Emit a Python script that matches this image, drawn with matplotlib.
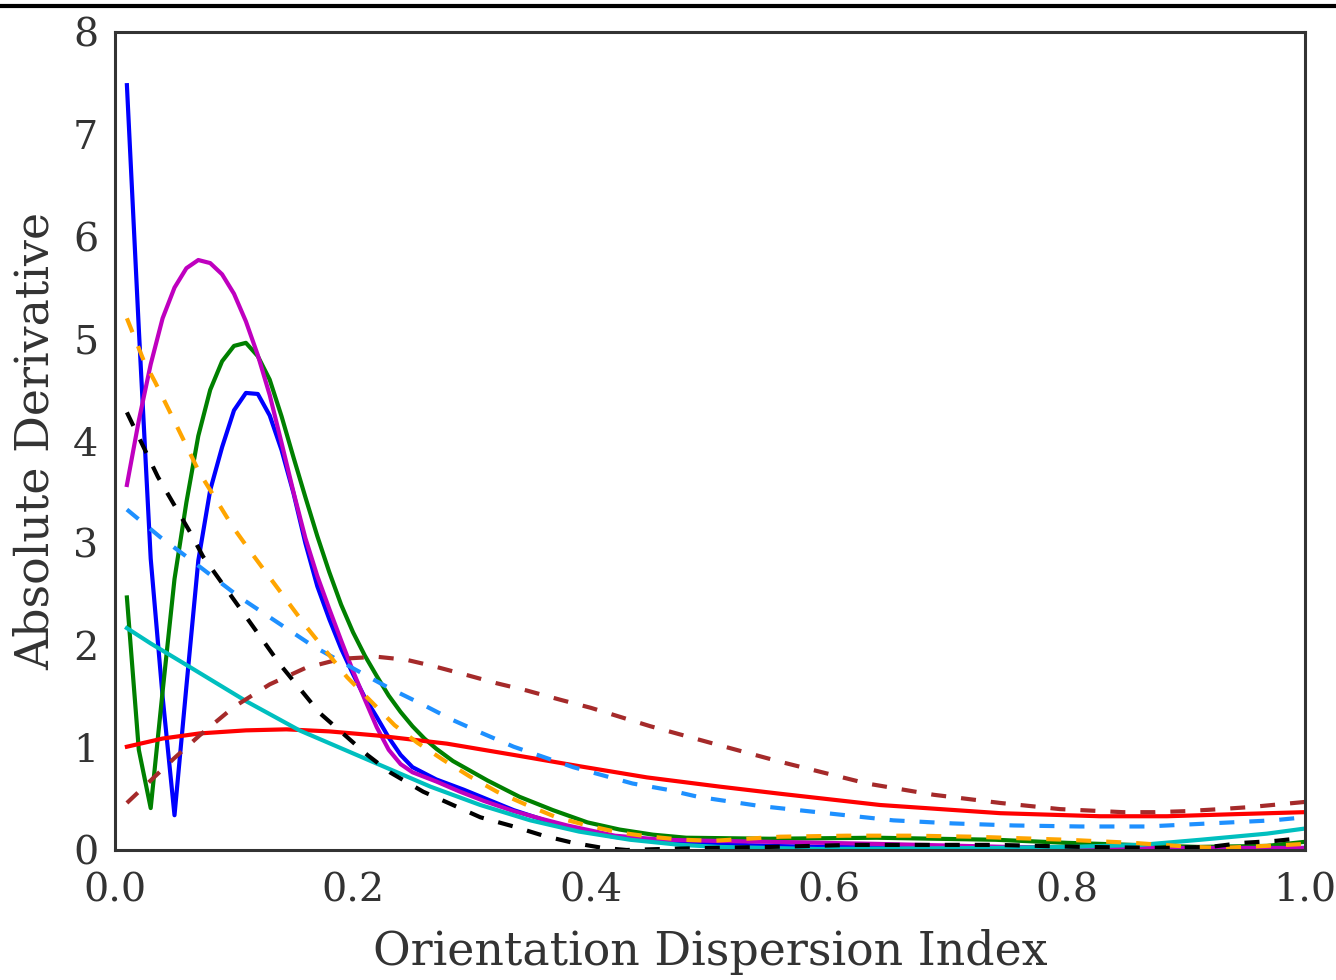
import matplotlib
matplotlib.use("Agg")
import matplotlib.pyplot as plt
from matplotlib.lines import Line2D

# --- data ---
blue_x = [0.01, 0.02, 0.03, 0.04, 0.05, 0.06, 0.07, 0.08, 0.09, 0.10, 0.11, 0.12,
          0.13, 0.14, 0.15, 0.16, 0.17, 0.18, 0.19, 0.20, 0.21, 0.22, 0.23, 0.24,
          0.25, 0.27, 0.293, 0.335, 0.377, 0.419, 0.46, 0.50, 0.55, 0.60, 0.70,
          0.80, 0.90, 1.00]
blue_y = [7.48, 5.10, 2.85, 1.50, 0.34, 1.60, 2.83, 3.52, 3.94, 4.30, 4.47, 4.46,
          4.25, 3.91, 3.49, 3.00, 2.58, 2.26, 1.97, 1.72, 1.49, 1.30, 1.10, 0.93,
          0.81, 0.69, 0.59, 0.39, 0.23, 0.13, 0.08, 0.06, 0.04, 0.03, 0.02,
          0.02, 0.01, 0.02]

green_x = [0.01, 0.02, 0.03, 0.04, 0.05, 0.06, 0.07, 0.08, 0.09, 0.10, 0.11, 0.12,
           0.13, 0.14, 0.15, 0.16, 0.17, 0.18, 0.19, 0.20, 0.21, 0.22, 0.23, 0.24,
           0.25, 0.26, 0.27, 0.284, 0.313, 0.34, 0.368, 0.397, 0.424, 0.452, 0.48,
           0.55, 0.64, 0.74, 0.80, 0.855, 0.91, 0.968, 1.00]
green_y = [2.47, 0.98, 0.41, 1.55, 2.65, 3.40, 4.05, 4.50, 4.78, 4.93, 4.96, 4.83,
           4.60, 4.24, 3.84, 3.45, 3.07, 2.72, 2.40, 2.13, 1.90, 1.70, 1.51, 1.35,
           1.21, 1.09, 0.99, 0.87, 0.68, 0.52, 0.39, 0.27, 0.20, 0.15, 0.12,
           0.11, 0.12, 0.10, 0.07, 0.05, 0.03, 0.04, 0.08]

magenta_x = [0.01, 0.02, 0.03, 0.04, 0.05, 0.06, 0.07, 0.08, 0.09, 0.10, 0.11, 0.12,
             0.13, 0.14, 0.15, 0.16, 0.17, 0.18, 0.19, 0.20, 0.21, 0.22, 0.23, 0.24,
             0.25, 0.27, 0.29, 0.31, 0.335, 0.36, 0.38, 0.42, 0.46, 0.50, 0.55,
             0.64, 0.75, 0.85, 1.00]
magenta_y = [3.57, 4.20, 4.75, 5.20, 5.50, 5.69, 5.77, 5.74, 5.63, 5.44, 5.17, 4.84,
             4.45, 3.98, 3.50, 3.05, 2.68, 2.36, 2.05, 1.75, 1.47, 1.20, 0.98, 0.84,
             0.76, 0.67, 0.57, 0.48, 0.38, 0.30, 0.24, 0.14, 0.10, 0.09, 0.08,
             0.06, 0.03, 0.02, 0.02]

cyan_x = [0.01, 0.03, 0.06, 0.111, 0.155, 0.223, 0.265, 0.307, 0.349, 0.39, 0.433,
          0.475, 0.508, 0.59, 0.74, 0.80, 0.862, 0.912, 0.968, 1.00]
cyan_y = [2.17, 2.02, 1.81, 1.45, 1.17, 0.83, 0.62, 0.44, 0.29, 0.18, 0.10,
          0.05, 0.03, 0.01, 0.02, 0.03, 0.05, 0.10, 0.16, 0.21]

red_x = [0.01, 0.04, 0.071, 0.11, 0.144, 0.18, 0.22, 0.279, 0.335, 0.39, 0.447, 0.508,
         0.559, 0.643, 0.744, 0.828, 0.884, 0.94, 1.00]
red_y = [1.01, 1.09, 1.14, 1.17, 1.18, 1.16, 1.12, 1.04, 0.93, 0.82, 0.71, 0.62,
         0.55, 0.44, 0.36, 0.33, 0.33, 0.35, 0.37]

brown_x = [0.01, 0.03, 0.05, 0.071, 0.10, 0.13, 0.16, 0.19, 0.22, 0.245, 0.267, 0.296,
           0.321, 0.346, 0.374, 0.40, 0.45, 0.503, 0.56, 0.632, 0.688, 0.744, 0.794,
           0.847, 0.874, 0.90, 0.929, 0.954, 1.00]
brown_y = [0.46, 0.68, 0.90, 1.12, 1.40, 1.62, 1.78, 1.87, 1.89, 1.86, 1.80, 1.71,
           1.63, 1.56, 1.47, 1.39, 1.21, 1.04, 0.86, 0.65, 0.54, 0.46, 0.40,
           0.37, 0.37, 0.38, 0.40, 0.42, 0.47]

dodger_x = [0.01, 0.038, 0.06, 0.105, 0.167, 0.212, 0.231, 0.259, 0.284, 0.309, 0.335,
            0.36, 0.385, 0.41, 0.435, 0.464, 0.49, 0.542, 0.598, 0.654, 0.704, 0.755,
            0.811, 0.867, 0.92, 0.973, 1.00]
dodger_y = [3.33, 3.06, 2.87, 2.47, 1.99, 1.70, 1.58, 1.42, 1.27, 1.14, 1.01,
            0.91, 0.81, 0.73, 0.65, 0.59, 0.52, 0.43, 0.36, 0.29, 0.26, 0.24,
            0.23, 0.23, 0.26, 0.29, 0.32]

orange_x = [0.01, 0.024, 0.034, 0.048, 0.071, 0.099, 0.115, 0.161, 0.195, 0.235, 0.254,
            0.276, 0.298, 0.321, 0.346, 0.371, 0.397, 0.424, 0.45, 0.477, 0.503, 0.531,
            0.559, 0.615, 0.671, 0.721, 0.80, 0.855, 0.906, 0.93, 0.985, 1.00]
orange_y = [5.20, 4.79, 4.57, 4.24, 3.69, 3.16, 2.90, 2.18, 1.69, 1.22, 1.05,
            0.88, 0.72, 0.57, 0.44, 0.32, 0.24, 0.17, 0.13, 0.10, 0.09, 0.11,
            0.13, 0.14, 0.14, 0.13, 0.10, 0.07, 0.03, 0.02, 0.05, 0.06]

black_x = [0.01, 0.024, 0.036, 0.049, 0.063, 0.074, 0.139, 0.172, 0.212, 0.231, 0.259,
           0.284, 0.307, 0.335, 0.36, 0.385, 0.41, 0.43, 0.46, 0.50, 0.55, 0.62,
           0.74, 0.813, 0.88, 0.92, 0.948, 0.976, 1.00]
black_y = [4.28, 3.94, 3.65, 3.39, 3.11, 2.87, 1.81, 1.34, 0.93, 0.76, 0.57,
           0.44, 0.32, 0.23, 0.14, 0.07, 0.02, 0.00, 0.01, 0.02, 0.03, 0.05,
           0.05, 0.03, 0.02, 0.03, 0.07, 0.09, 0.12]

x_ticks = [0.0, 0.2, 0.4, 0.6, 0.8, 1.0]
x_tick_labels = ["0.0", "0.2", "0.4", "0.6", "0.8", "1.0"]
y_ticks = [0, 1, 2, 3, 4, 5, 6, 7, 8]

plt.rcParams['font.family'] = ['DejaVu Serif']

fig = plt.figure(figsize=(13.36, 9.8), dpi=100)
ax = fig.add_axes([115 / 1336, 1 - 850 / 980, 1190 / 1336, 818 / 980])

lw = 3.0
dash = (3.6, 3.6)
ax.plot(blue_x, blue_y, color="blue", lw=lw)
ax.plot(green_x, green_y, color="green", lw=lw)
ax.plot(magenta_x, magenta_y, color="m", lw=lw)
ax.plot(red_x, red_y, color="red", lw=lw)
ax.plot(cyan_x, cyan_y, color="c", lw=lw)
ax.plot(brown_x, brown_y, color="brown", lw=lw, dashes=dash)
ax.plot(dodger_x, dodger_y, color="dodgerblue", lw=lw, dashes=dash)
ax.plot(orange_x, orange_y, color="orange", lw=lw, dashes=dash)
ax.plot(black_x, black_y, color="black", lw=lw, dashes=dash)

ax.set_xlim(0, 1.0)
ax.set_ylim(0, 8)
ax.set_xticks(x_ticks)
ax.set_xticklabels(x_tick_labels)
ax.set_yticks(y_ticks)
ax.tick_params(axis="both", length=0, labelsize=28.5, colors="#333333")
ax.tick_params(axis="x", pad=16)
ax.tick_params(axis="y", pad=12)
for s in ax.spines.values():
    s.set_color("#333333")
    s.set_linewidth(2.2)

ax.set_xlabel("Orientation Dispersion Index", fontsize=33, color="#333333", labelpad=14)
ax.set_ylabel("Absolute Derivative", fontsize=33, color="#333333", labelpad=10)

# black rule across the top of the figure
fig.add_artist(Line2D([0, 1], [1 - 6.5 / 980, 1 - 6.5 / 980], color="black", lw=3,
                      transform=fig.transFigure))

fig.savefig("out.png", dpi=100)
